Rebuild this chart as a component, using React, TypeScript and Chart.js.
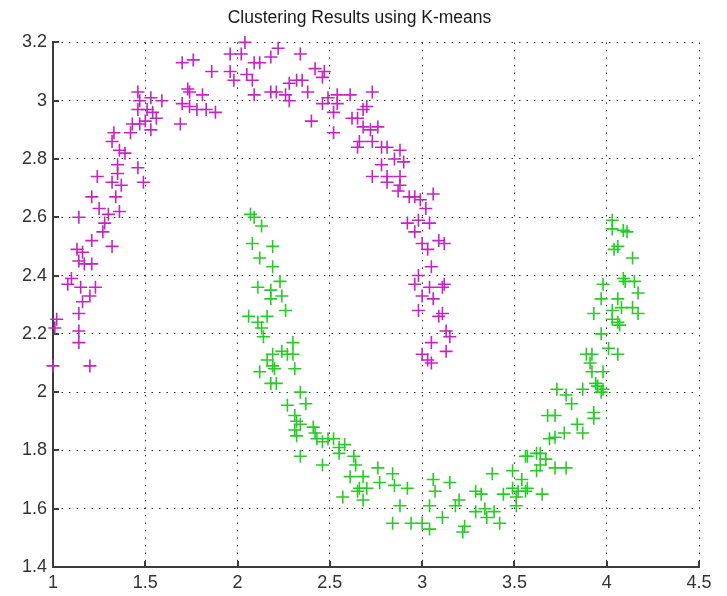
import { useEffect, useRef } from "react";
import { Chart, registerables } from "chart.js";

Chart.register(...registerables);

// Axis ticks and their labels
const xTickValues = [1, 1.5, 2, 2.5, 3, 3.5, 4, 4.5];
const xTickLabels = ["1", "1.5", "2", "2.5", "3", "3.5", "4", "4.5"];
const yTickValues = [1.4, 1.6, 1.8, 2, 2.2, 2.4, 2.6, 2.8, 3, 3.2];
const yTickLabels = ["1.4", "1.6", "1.8", "2", "2.2", "2.4", "2.6", "2.8", "3", "3.2"];

const chartTitle = "Clustering Results using K-means";

// Cluster 1: upper arc, [x, y]
const clusterUpper: [number, number][] = [
  [2.04, 3.2], [1.96, 3.16], [2.02, 3.16], [1.7, 3.13], [1.76, 3.14], [1.86, 3.1], [1.96, 3.1],
  [1.98, 3.07], [2.05, 3.09], [2.08, 3.07], [2.09, 3.13], [2.12, 3.13], [2.18, 3.15], [2.22, 3.18],
  [2.34, 3.16], [2.09, 3.02], [2.18, 3.03], [2.21, 3.03], [2.26, 3.02], [2.28, 3.0], [2.28, 3.06],
  [2.32, 3.07], [2.35, 3.07], [2.38, 3.03], [2.42, 3.11], [2.47, 3.1], [2.46, 3.08], [1.81, 3.02],
  [1.83, 2.97], [1.88, 2.96],
  [1.46, 3.03], [1.47, 3.0], [1.53, 3.01], [1.59, 3.0], [1.46, 2.97], [1.51, 2.97], [1.54, 2.96],
  [1.56, 2.94], [1.43, 2.92], [1.47, 2.92], [1.5, 2.93], [1.53, 2.9], [1.42, 2.89], [1.73, 3.04],
  [1.74, 3.03], [1.7, 2.99], [1.74, 2.98], [1.78, 2.97], [1.69, 2.92],
  [1.33, 2.89], [1.32, 2.86], [1.36, 2.83], [1.39, 2.82], [1.35, 2.78], [1.35, 2.75], [1.46, 2.77],
  [1.24, 2.74], [1.32, 2.72], [1.37, 2.71], [1.49, 2.72], [1.21, 2.67], [1.34, 2.67], [1.25, 2.63],
  [1.36, 2.62], [1.3, 2.61], [1.14, 2.6], [1.28, 2.58], [1.27, 2.55], [1.21, 2.52], [1.32, 2.5],
  [1.13, 2.49], [1.16, 2.48], [1.14, 2.45], [1.17, 2.44], [1.21, 2.44], [1.1, 2.39], [1.08, 2.37],
  [1.15, 2.36], [1.23, 2.36], [1.2, 2.33], [1.16, 2.31], [1.14, 2.27], [1.02, 2.25], [1.01, 2.22],
  [1.14, 2.21], [1.14, 2.17], [1.0, 2.09], [1.2, 2.09],
  [2.49, 3.01], [2.54, 3.02], [2.61, 3.02], [2.73, 3.03], [2.46, 2.99], [2.54, 2.99], [2.52, 2.96],
  [2.4, 2.93], [2.52, 2.89], [2.62, 2.94], [2.65, 2.94], [2.68, 2.97], [2.7, 2.98], [2.68, 2.91],
  [2.72, 2.9], [2.76, 2.91], [2.66, 2.86], [2.65, 2.84], [2.73, 2.86], [2.78, 2.84], [2.81, 2.84],
  [2.88, 2.83], [2.85, 2.8], [2.9, 2.79], [2.78, 2.78], [2.73, 2.74], [2.81, 2.74], [2.88, 2.74],
  [2.81, 2.72], [2.88, 2.71], [2.87, 2.69], [2.93, 2.67], [2.96, 2.67], [3.06, 2.68], [2.99, 2.66],
  [3.02, 2.63], [2.92, 2.58], [2.98, 2.59], [3.04, 2.58], [2.96, 2.55], [3.0, 2.51], [3.03, 2.49],
  [3.09, 2.52], [3.12, 2.51], [3.05, 2.43], [2.98, 2.4], [2.96, 2.37], [3.04, 2.36], [3.11, 2.36],
  [3.12, 2.37], [3.0, 2.33], [3.06, 2.32], [2.98, 2.28], [3.09, 2.26], [3.11, 2.27], [3.13, 2.21],
  [3.15, 2.19], [3.05, 2.17], [3.13, 2.14], [3.0, 2.13], [3.03, 2.11], [3.05, 2.1],
];

// Cluster 2: lower arc, [x, y]
const clusterLower: [number, number][] = [
  [2.07, 2.61], [2.09, 2.6], [2.13, 2.57], [2.08, 2.51], [2.19, 2.5], [2.12, 2.46], [2.19, 2.43],
  [2.23, 2.38], [2.11, 2.36], [2.18, 2.35], [2.18, 2.32], [2.24, 2.33], [2.26, 2.28], [2.06, 2.26],
  [2.16, 2.26], [2.11, 2.24], [2.13, 2.22], [2.14, 2.19], [2.3, 2.17], [2.19, 2.13], [2.24, 2.14],
  [2.27, 2.13], [2.3, 2.13], [2.16, 2.11], [2.19, 2.09], [2.12, 2.07], [2.31, 2.08], [2.2, 2.08],
  [2.18, 2.03], [2.21, 2.03], [2.34, 2.0], [2.37, 1.96], [2.27, 1.955], [2.31, 1.92], [2.32, 1.9],
  [2.34, 1.89], [2.31, 1.87], [2.32, 1.85], [2.41, 1.88], [2.42, 1.86], [2.43, 1.84], [2.46, 1.83],
  [2.49, 1.84], [2.52, 1.84], [2.55, 1.81], [2.58, 1.82], [2.55, 1.79], [2.63, 1.78], [2.34, 1.78],
  [2.46, 1.75], [2.64, 1.75], [2.61, 1.71], [2.68, 1.71], [2.66, 1.67], [2.7, 1.67], [2.65, 1.66],
  [2.57, 1.64], [2.68, 1.63], [2.76, 1.74], [2.77, 1.69], [2.84, 1.72], [2.85, 1.68], [2.92, 1.67],
  [2.88, 1.61], [2.84, 1.55], [2.94, 1.55], [3.0, 1.55], [3.04, 1.53], [3.06, 1.7], [3.07, 1.66],
  [3.04, 1.61], [3.11, 1.57], [3.15, 1.69], [3.2, 1.63], [3.18, 1.61], [3.23, 1.54], [3.29, 1.66],
  [3.32, 1.65], [3.29, 1.59], [3.34, 1.6], [3.35, 1.57], [3.38, 1.72], [3.39, 1.59], [3.22, 1.52],
  [3.42, 1.55], [3.44, 1.65], [3.49, 1.73], [3.49, 1.67], [3.52, 1.66], [3.51, 1.64], [3.51, 1.61],
  [3.54, 1.7], [3.56, 1.66], [3.57, 1.67], [3.65, 1.65], [3.56, 1.78], [3.57, 1.78], [3.62, 1.79],
  [3.64, 1.79], [3.67, 1.77], [3.64, 1.75], [3.62, 1.73], [3.72, 1.74], [3.78, 1.74], [3.69, 1.84],
  [3.72, 1.845], [3.77, 1.86], [3.68, 1.92], [3.72, 1.92], [3.84, 1.89], [3.87, 1.86], [3.93, 1.91],
  [3.93, 1.93], [3.73, 2.01], [3.78, 1.99], [3.81, 1.96], [3.87, 2.01], [3.94, 2.03], [3.95, 2.02],
  [3.97, 2.0], [4.03, 2.59], [4.03, 2.56], [4.09, 2.555], [4.11, 2.55], [4.06, 2.5], [4.04, 2.49],
  [4.14, 2.46], [4.09, 2.39], [4.1, 2.38], [4.15, 2.38], [4.17, 2.34], [3.98, 2.37], [3.97, 2.32],
  [3.93, 2.27], [4.03, 2.28], [4.06, 2.32], [4.08, 2.29], [4.14, 2.29], [4.17, 2.27], [4.03, 2.25],
  [4.06, 2.24], [4.07, 2.23], [3.97, 2.2], [4.01, 2.15], [4.06, 2.13], [3.89, 2.13], [3.92, 2.13],
  [3.91, 2.1], [3.92, 2.07], [3.98, 2.07], [3.95, 2.02], [3.98, 2.01],
];

const AXIS_COLOR = "#3c3c3c";
const GRID_COLOR = "#2a2a2a";
const LABEL_COLOR = "#333333";

// Short tick marks pointing into the plot area
const innerTicks = {
  id: "innerTicks",
  beforeDatasetsDraw(chart: any) {
    const { ctx, chartArea, scales } = chart;
    ctx.save();
    ctx.strokeStyle = AXIS_COLOR;
    ctx.lineWidth = 2;
    ctx.setLineDash([]);
    xTickValues.forEach((v) => {
      const x = Math.round(scales.x.getPixelForValue(v));
      ctx.beginPath();
      ctx.moveTo(x, chartArea.bottom);
      ctx.lineTo(x, chartArea.bottom - 6);
      ctx.stroke();
    });
    yTickValues.forEach((v) => {
      const y = Math.round(scales.y.getPixelForValue(v));
      ctx.beginPath();
      ctx.moveTo(chartArea.left, y);
      ctx.lineTo(chartArea.left + 6, y);
      ctx.stroke();
    });
    ctx.restore();
  },
};

const toPoints = (pts: [number, number][]) => pts.map(([x, y]) => ({ x, y }));

export default function App() {
  const canvasRef = useRef<HTMLCanvasElement | null>(null);

  useEffect(() => {
    if (!canvasRef.current) return;
    Chart.defaults.font.family = "'Liberation Sans', Arial, sans-serif";

    const chart = new Chart(canvasRef.current, {
      type: "scatter",
      data: {
        datasets: [
          {
            label: "Cluster 1",
            data: toPoints(clusterUpper),
            pointStyle: "cross",
            pointRadius: 6.5,
            pointBorderWidth: 1.6,
            borderColor: "#c424c4",
            backgroundColor: "#c424c4",
            showLine: false,
            clip: false,
          },
          {
            label: "Cluster 2",
            data: toPoints(clusterLower),
            pointStyle: "cross",
            pointRadius: 6.5,
            pointBorderWidth: 1.6,
            borderColor: "#26cc26",
            backgroundColor: "#26cc26",
            showLine: false,
            clip: false,
          },
        ],
      },
      options: {
        animation: false,
        responsive: false,
        events: [],
        layout: { padding: { left: 20, right: 28, top: 0, bottom: 0 } },
        plugins: {
          legend: { display: false },
          tooltip: { enabled: false },
          title: {
            display: true,
            text: chartTitle,
            color: "#1a1a1a",
            font: { size: 17.5, weight: "normal" },
            padding: { top: 8, bottom: 13.4 },
          },
        },
        scales: {
          x: {
            type: "linear",
            min: 1,
            max: 4.5,
            afterBuildTicks: (scale: any) => {
              scale.ticks = xTickValues.map((value) => ({ value }));
            },
            afterFit: (scale: any) => {
              scale.height = 29;
            },
            ticks: {
              autoSkip: false,
              maxRotation: 0,
              padding: 5,
              color: LABEL_COLOR,
              font: { size: 18 },
              callback: (_v: any, i: number) => xTickLabels[i],
            },
            grid: { color: GRID_COLOR, lineWidth: 1, drawTicks: false },
            border: { display: true, color: AXIS_COLOR, width: 2, dash: [1.5, 6] },
          },
          y: {
            type: "linear",
            min: 1.4,
            max: 3.2,
            afterBuildTicks: (scale: any) => {
              scale.ticks = yTickValues.map((value) => ({ value }));
            },
            afterFit: (scale: any) => {
              scale.width = 33;
            },
            ticks: {
              autoSkip: false,
              padding: 6,
              color: LABEL_COLOR,
              font: { size: 18 },
              callback: (_v: any, i: number) => yTickLabels[i],
            },
            grid: { color: GRID_COLOR, lineWidth: 1, drawTicks: false },
            border: { display: true, color: AXIS_COLOR, width: 2, dash: [1.5, 6] },
          },
        },
      },
      plugins: [innerTicks],
    });

    return () => chart.destroy();
  }, []);

  return (
    <div style={{ position: "absolute", left: 0, top: 0, width: 727, height: 596, background: "#fff" }}>
      <canvas ref={canvasRef} width={727} height={596} style={{ display: "block" }} />
    </div>
  );
}
